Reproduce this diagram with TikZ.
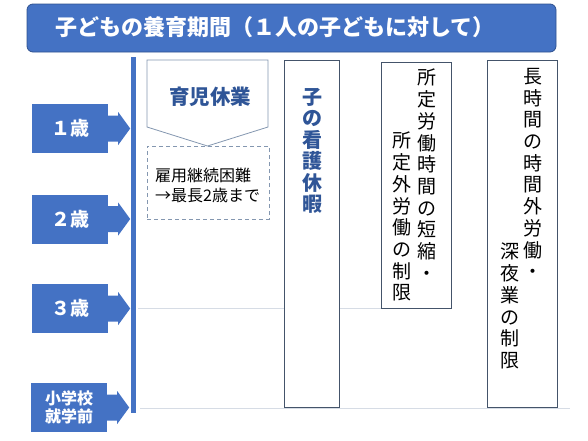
\documentclass[tikz,border=0pt]{standalone}
\usepackage{fontspec}
\newfontfamily\jp{Noto Sans CJK JP}
\definecolor{mblue}{HTML}{4472C4}
\definecolor{dblue}{HTML}{2F528F}
\definecolor{tblue}{HTML}{2F5597}
\definecolor{edge}{HTML}{44546A}
\definecolor{soft}{HTML}{8497B0}
\definecolor{faint}{HTML}{D6DCE5}
\tikzset{
  agebox/.style={fill=mblue, minimum width=76pt, minimum height=49pt, inner sep=0pt, text=white, font=\jp\bfseries\fontsize{19}{21}\selectfont, align=center},
  colbox/.style={draw=edge, line width=0.8pt, fill=white},
  vtext/.style={align=center, inner sep=0pt, anchor=north},
  vfont/.style={font=\jp\fontsize{19}{21.7}\selectfont},
}
\newcommand{\agearrow}[1]{%
  \fill[mblue] ([yshift=13pt]#1.east) -- ++(10pt,0pt) -- ++(0pt,3.5pt) -- ++(12pt,-16.5pt) -- ++(-12pt,-16.5pt) -- ++(0pt,3.5pt) -- ++(-10pt,0pt) -- cycle;}
\begin{document}
\begin{tikzpicture}[x=1pt,y=-1pt]
\useasboundingbox (0,0) rectangle (588,440);
% title
\node[draw=dblue, line width=0.8pt, fill=mblue, rounded corners=6pt, minimum width=529pt, minimum height=48pt, inner sep=0pt] (title) at (291.5,28) {};
\node[text=white, font=\jp\bfseries\fontsize{22}{24}\selectfont, inner sep=0pt] (titlet) at (275,27) {子どもの養育期間（１人の子どもに対して）};
% faint guide lines
\coordinate (l3a) at (138,308);
\coordinate (l3b) at (381,308);
\coordinate (lba) at (140,408);
\coordinate (lbb) at (570,408);
\draw[faint, line width=0.8pt] (l3a) -- (l3b);
\draw[faint, line width=0.8pt] (lba) -- (lbb);
% vertical bar
\fill[mblue] (131,57) rectangle (136,413);
% age labels
\node[agebox] (a1) at (70,128.5) {１歳};
\node[agebox] (a2) at (70,219) {２歳};
\node[agebox] (a3) at (70,308.5) {３歳};
\node[agebox, font=\jp\bfseries\fontsize{16}{18}\selectfont] (a4) at (69,407.5) {小学校\\就学前};
\agearrow{a1}\agearrow{a2}\agearrow{a3}\agearrow{a4}
% childcare leave pentagon
\draw[soft, line width=0.8pt, fill=white] (147,60) -- (268,60) -- (268,127) -- (207.5,146) -- (147,127) -- cycle;
\node[text=tblue, font=\jp\bfseries\fontsize{20.5}{22}\selectfont, inner sep=0pt] (ikuji) at (210,97) {育児休業};
\node[draw=soft, dashed, dash pattern=on 4pt off 3pt, line width=0.8pt, minimum width=122pt, minimum height=73pt, inner sep=0pt] (ext) at (208,182.5) {};
\node[align=left, font=\jp\fontsize{16}{20}\selectfont, anchor=west, inner sep=0pt] (extt) at (155,185) {雇用継続困難\\→最長2歳まで};
% column boxes
\node[colbox, minimum width=55pt, minimum height=347pt, inner sep=0pt] (kango) at (311.5,233.5) {};
\node[vtext, text=tblue, font=\jp\bfseries\fontsize{20}{21.5}\selectfont] (kangot) at (312,88) {子\\の\\看\\護\\休\\暇};
\node[colbox, minimum width=70pt, minimum height=246pt, inner sep=0pt] (tanshuku) at (416,185) {};
\node[vtext, vfont] (tan1) at (427,69) {所\\定\\労\\働\\時\\間\\の\\短\\縮\\・};
\node[vtext, vfont] (tan2) at (402,132) {所\\定\\外\\労\\働\\の\\制\\限};
\node[colbox, minimum width=70pt, minimum height=347pt, inner sep=0pt] (choji) at (522,233.5) {};
\node[vtext, vfont] (cho1) at (533,68) {長\\時\\間\\の\\時\\間\\外\\労\\働\\・};
\node[vtext, vfont] (cho2) at (510,243) {深\\夜\\業\\の\\制\\限};
\end{tikzpicture}
\end{document}
